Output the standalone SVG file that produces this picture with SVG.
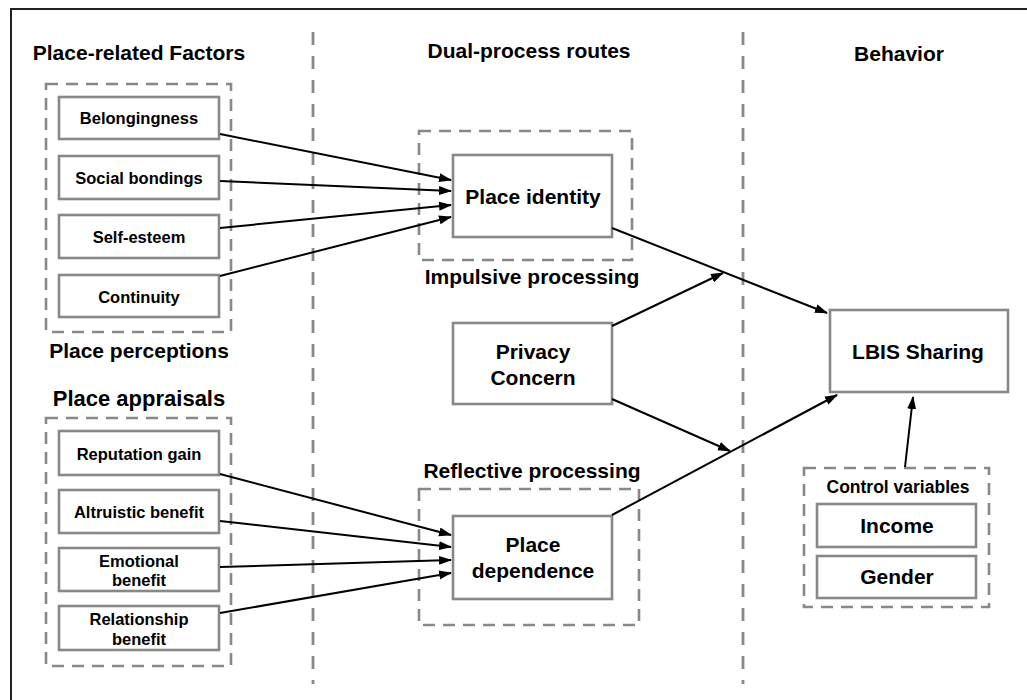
<svg xmlns="http://www.w3.org/2000/svg" width="1027" height="700" viewBox="0 0 1027 700">
  <style>
    text { font-family: "Liberation Sans", Arial, Helvetica, sans-serif; font-weight: bold; fill: #000; text-anchor: middle; }
    .head { font-size: 21px; }
    .small { font-size: 16.5px; }
    .big { font-size: 21px; }
    .ctl { font-size: 17.5px; }
    .box { fill: #fff; stroke: #888; stroke-width: 2.6; }
    .grp { fill: none; stroke: #888; stroke-width: 2.6; stroke-dasharray: 12 8; }
    .sep { fill: none; stroke: #888; stroke-width: 2.8; stroke-dasharray: 13 11; }
    .edge { fill: none; stroke: #000; stroke-width: 2; marker-end: url(#arrow); }
  </style>
  <defs>
    <marker id="arrow" markerUnits="userSpaceOnUse" markerWidth="13" markerHeight="10" viewBox="0 0 13 10" refX="12" refY="5" orient="auto">
      <path d="M0,0.5 L13,5 L0,9.5 z" fill="#000"/>
    </marker>
  </defs>

  <rect x="0" y="0" width="1027" height="700" fill="#fff"/>
  <!-- outer frame: top and left edges -->
  <path d="M11,700 L11,9 L1027,9" fill="none" stroke="#222" stroke-width="2"/>

  <!-- column separators -->
  <line class="sep" x1="313" y1="32" x2="313" y2="684"/>
  <line class="sep" x1="743" y1="32" x2="743" y2="684"/>

  <!-- column headings -->
  <text class="head" x="139" y="60">Place-related Factors</text>
  <text class="head" x="529" y="58">Dual-process routes</text>
  <text class="head" x="899" y="61">Behavior</text>

  <!-- place perceptions group -->
  <g id="perceptions">
    <rect class="grp" x="46" y="84" width="185" height="248"/>
    <text class="head" x="139" y="358">Place perceptions</text>
  </g>
  <g id="belongingness">
    <rect class="box" x="59" y="97" width="160" height="42"/>
    <text class="small" x="139" y="124">Belongingness</text>
  </g>
  <g id="social-bondings">
    <rect class="box" x="59" y="156" width="160" height="43"/>
    <text class="small" x="139" y="184">Social bondings</text>
  </g>
  <g id="self-esteem">
    <rect class="box" x="59" y="215" width="160" height="43"/>
    <text class="small" x="139" y="243">Self-esteem</text>
  </g>
  <g id="continuity">
    <rect class="box" x="59" y="275" width="160" height="42"/>
    <text class="small" x="139" y="303">Continuity</text>
  </g>

  <!-- place appraisals group -->
  <g id="appraisals">
    <text class="head" x="139" y="406" style="font-size:22px">Place appraisals</text>
    <rect class="grp" x="46" y="418" width="185" height="248"/>
  </g>
  <g id="reputation-gain">
    <rect class="box" x="59" y="431" width="160" height="44"/>
    <text class="small" x="139" y="460">Reputation gain</text>
  </g>
  <g id="altruistic-benefit">
    <rect class="box" x="59" y="490" width="160" height="43"/>
    <text class="small" x="139" y="518">Altruistic benefit</text>
  </g>
  <g id="emotional-benefit">
    <rect class="box" x="59" y="548" width="160" height="43"/>
    <text class="small" x="139" y="567">Emotional</text>
    <text class="small" x="139" y="586">benefit</text>
  </g>
  <g id="relationship-benefit">
    <rect class="box" x="59" y="606" width="160" height="44"/>
    <text class="small" x="139" y="625">Relationship</text>
    <text class="small" x="139" y="645">benefit</text>
  </g>

  <!-- dual-process routes -->
  <g id="impulsive">
    <rect class="grp" x="419" y="131" width="213" height="129"/>
    <text class="head" x="532" y="284">Impulsive processing</text>
  </g>
  <g id="place-identity">
    <rect class="box" x="453" y="155" width="159" height="82"/>
    <text class="big" x="533" y="204">Place identity</text>
  </g>
  <g id="privacy-concern">
    <rect class="box" x="453" y="323" width="159" height="81"/>
    <text class="big" x="533" y="359">Privacy</text>
    <text class="big" x="533" y="385">Concern</text>
  </g>
  <g id="reflective">
    <text class="head" x="532" y="478">Reflective processing</text>
    <rect class="grp" x="419" y="489" width="220" height="136"/>
  </g>
  <g id="place-dependence">
    <rect class="box" x="453" y="516" width="159" height="83"/>
    <text class="big" x="533" y="552">Place</text>
    <text class="big" x="533" y="578">dependence</text>
  </g>

  <!-- behaviour -->
  <g id="lbis-sharing">
    <rect class="box" x="830" y="310" width="178" height="82"/>
    <text class="big" x="918" y="359">LBIS Sharing</text>
  </g>
  <g id="control-variables">
    <rect class="grp" x="804" y="468" width="185" height="139"/>
    <text class="ctl" x="898" y="493">Control variables</text>
  </g>
  <g id="income">
    <rect class="box" x="817" y="504" width="159" height="43"/>
    <text class="big" x="897" y="533">Income</text>
  </g>
  <g id="gender">
    <rect class="box" x="817" y="556" width="159" height="42"/>
    <text class="big" x="897" y="584">Gender</text>
  </g>

  <!-- connectors -->
  <g id="connectors">
    <line class="edge" x1="220" y1="134" x2="451" y2="180"/>
    <line class="edge" x1="220" y1="181" x2="451" y2="191"/>
    <line class="edge" x1="220" y1="228" x2="451" y2="205"/>
    <line class="edge" x1="220" y1="276" x2="451" y2="217"/>
    <line class="edge" x1="612" y1="228" x2="827" y2="313"/>
    <line class="edge" x1="612" y1="326" x2="723" y2="273"/>
    <line class="edge" x1="612" y1="399" x2="730" y2="451"/>
    <line class="edge" x1="612" y1="515" x2="837" y2="395"/>
    <line class="edge" x1="905" y1="467" x2="913" y2="397"/>
    <line class="edge" x1="220" y1="474" x2="451" y2="535"/>
    <line class="edge" x1="220" y1="521" x2="451" y2="547"/>
    <line class="edge" x1="220" y1="567" x2="451" y2="560"/>
    <line class="edge" x1="220" y1="613" x2="451" y2="573"/>
  </g>
</svg>
